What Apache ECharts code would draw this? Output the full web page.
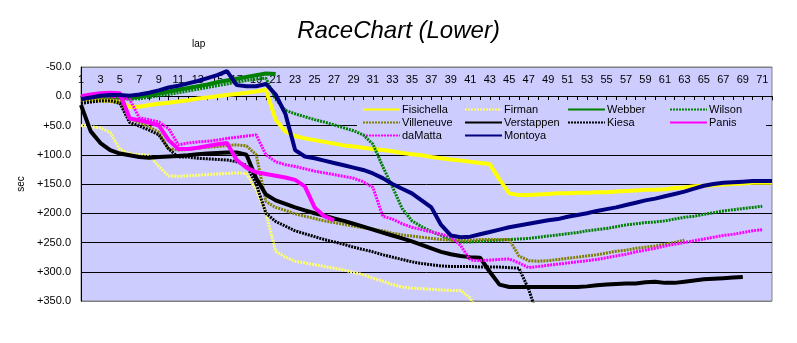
<!DOCTYPE html>
<html>
<head>
<meta charset="utf-8">
<script src="https://cdn.jsdelivr.net/npm/echarts@6/dist/echarts.min.js"></script>
<style>
html,body{margin:0;padding:0;background:#fff;}
#c{width:797px;height:343px;}
</style>
</head>
<body>
<div id="c"></div>
<script>
const laps = ['1','2','3','4','5','6','7','8','9','10','11','12','13','14','15','16','17','18','19','20',
'21','22','23','24','25','26','27','28','29','30','31','32','33','34','35','36','37','38','39','40',
'41','42','43','44','45','46','47','48','49','50','51','52','53','54','55','56','57','58','59','60',
'61','62','63','64','65','66','67','68','69','70','71','72'];

const yTicks = [-50, 0, 50, 100, 150, 200, 250, 300, 350];

const fisichella = [5,6,7,8,10,18,18,15,13,11,9,7,4,2,0,-2,-4,-6,-8,-11,
40,60,68,72,75,78,81,84,86,88,90,92,94,97,99,101,104,106,108,110,
112,114,116,142,166,169,169,168,167,166,166,165,165,164,164,163,162,161,160,160,
159,157,156,154,153,152,151,150,149,148,148,148];

const firman = [50,52,54,62,91,98,100,101,120,136,137,136,135,134,133,132,131,132,160,200,
265,275,282,285,288,291,294,297,301,305,311,316,322,326,328,329,330,331,332,332,
345,380];

const webber = [3,2,1,1,2,3,1,-2,-5,-8,-11,-14,-17,-20,-24,-27,-30,-33,-36,-39,-38];

const wilson = [5,4,3,3,4,5,4,2,-1,-3,-6,-9,-12,-15,-18,-21,-24,-27,-29,-31,
5,24,30,35,40,44,49,54,59,66,82,120,155,192,213,223,231,238,245,249,
249,248,247,246,245,244,243,241,239,237,235,233,230,228,226,223,220,218,216,215,
213,210,207,205,202,199,196,194,192,190,188];

const villeneuve = [8,6,4,5,8,38,45,52,62,90,92,91,89,87,86,84,83,85,100,180,
190,195,201,205,209,213,216,219,222,225,227,230,234,237,239,241,243,245,246,246,
246,245,245,245,245,273,281,282,281,279,277,275,273,271,268,265,263,260,258,256,
253,250,246];

const verstappen = [15,60,80,92,98,101,104,105,104,103,102,101,99,98,97,96,96,100,140,168,
178,184,190,195,200,204,209,213,218,223,228,233,238,243,248,254,260,266,270,273,
275,276,300,322,326,326,326,326,326,326,326,326,325,323,322,321,320,320,318,317,
319,319,317,315,313,312,311,310,309];

const kiesa = [12,10,8,8,12,45,51,58,66,90,104,104,106,107,108,109,112,118,150,200,
214,222,230,235,240,245,249,253,258,262,266,271,275,279,283,286,288,290,291,291,
291,292,292,292,293,294,330,380];

const panis = [0,-3,-5,-6,-5,38,41,45,50,75,90,90,88,85,82,80,109,122,130,133,
136,139,143,154,190,205,212];

const damatta = [1,0,-1,0,1,5,37,40,44,55,83,80,78,77,75,72,70,68,66,100,
112,117,120,124,128,131,134,137,140,146,156,205,210,218,224,228,232,236,240,255,
280,281,280,279,278,285,293,291,289,287,285,283,281,279,276,273,270,266,263,260,
256,253,250,247,244,241,238,236,233,230,228];

const montoya = [5,2,-1,-2,-2,-1,-3,-6,-10,-15,-18,-22,-26,-31,-36,-43,-19,-17,-17,-21,
-3,30,92,103,106,110,114,118,122,126,132,140,150,158,166,178,190,220,238,241,
240,236,232,228,224,221,218,215,212,210,206,203,200,196,193,190,186,182,178,175,
171,167,163,158,153,150,148,147,146,145,145,145];

const chart = echarts.init(document.getElementById('c'), null, {renderer:'canvas'});

function solid(name, data, color){
  return {name:name, type:'line', data:data, symbol:'none', smooth:false, clip:true, z:2,
    lineStyle:{color:color, width:4, type:'solid'}, itemStyle:{color:color}};
}
function dotted(name, data, color){
  return {name:name, type:'line', data:data, symbol:'none', smooth:false, clip:true, z:2,
    lineStyle:{color:color, width:3, type:[2,1]}, itemStyle:{color:color}};
}

const font = 'Liberation Sans, Arial, sans-serif';

function legendCol(left, names){
  return {orient:'vertical', left:left, top:103, itemWidth:37, itemHeight:4, itemGap:0,
    padding:0, z:1,
    itemStyle:{opacity:0},
    textStyle:{fontSize:11, color:'#000', fontFamily:font, lineHeight:13, padding:[0,0,0,-3]},
    data:names};
}

chart.setOption({
  animation:false,
  backgroundColor:'#ffffff',
  title:{text:'RaceChart (Lower)', left:'center', top:14,
    textStyle:{fontSize:24, fontStyle:'italic', fontWeight:'normal', color:'#000', fontFamily:font}},
  graphic:[
    {type:'rect', left:357, top:100, shape:{width:409, height:47}, style:{fill:'#CCCCFF'}, z:1, silent:true},
    {type:'text', left:192, top:39, style:{text:'lap', fontSize:10, fill:'#000', fontFamily:font}, z:5}
  ],
  legend:[
    legendCol(362, ['Fisichella','Villeneuve','daMatta']),
    legendCol(464, ['Firman','Verstappen','Montoya']),
    legendCol(567, ['Webber','Kiesa']),
    legendCol(669, ['Wilson','Panis'])
  ],
  grid:{left:81, right:25, top:67, bottom:42, show:true, backgroundColor:'#CCCCFF',
    borderColor:'#808080', borderWidth:1, containLabel:false},
  xAxis:[
    {type:'category', data:laps, boundaryGap:false, position:'top',
      axisLine:{show:true, onZero:true, lineStyle:{color:'#000', width:1}},
      axisTick:{show:true, inside:true, length:4, interval:0, lineStyle:{color:'#000'}},
      axisLabel:{show:false},
      splitLine:{show:false}},
    {type:'category', data:laps, boundaryGap:false, position:'top',
      axisLine:{show:false, onZero:false},
      axisTick:{show:false},
      axisLabel:{show:true, inside:true, interval:1, margin:7, color:'#000', fontSize:11, fontFamily:font},
      splitLine:{show:false}}
  ],
  yAxis:{type:'value', inverse:true, min:yTicks[0], max:yTicks[yTicks.length-1], interval:50,
    name:'sec', nameLocation:'middle', nameRotate:90, nameGap:52,
    nameTextStyle:{fontSize:10, color:'#000', fontFamily:font},
    axisLine:{show:true, onZero:false, lineStyle:{color:'#000', width:1}},
    axisTick:{show:false},
    axisLabel:{color:'#000', fontSize:11, fontFamily:font, margin:10,
      formatter:function(v){ return v < 0 ? v.toFixed(1) : (v === 0 ? '0.0' : '+' + v.toFixed(1)); }},
    splitLine:{show:true, lineStyle:{color:['#808080','#000','#000','#000','#000','#000','#000','#000','#808080'], width:1}}},
  series:[
    solid('Fisichella', fisichella, '#FFFF00'),
    dotted('Firman', firman, '#FFFF66'),
    solid('Webber', webber, '#008000'),
    dotted('Wilson', wilson, '#008000'),
    dotted('Villeneuve', villeneuve, '#808000'),
    solid('Verstappen', verstappen, '#000000'),
    dotted('Kiesa', kiesa, '#000000'),
    solid('Panis', panis, '#FF00FF'),
    dotted('daMatta', damatta, '#FF00FF'),
    solid('Montoya', montoya, '#000080')
  ]
});
</script>
</body>
</html>
